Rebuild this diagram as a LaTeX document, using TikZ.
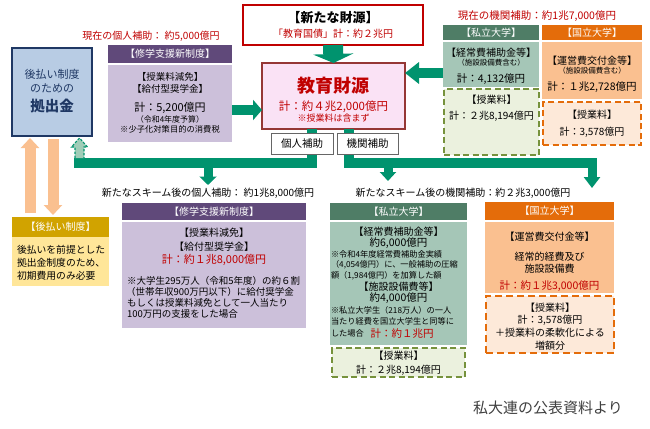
\documentclass[tikz,border=0pt]{standalone}
\usepackage{fontspec}
\setmainfont{Noto Sans CJK JP}
\usetikzlibrary{arrows.meta}
\newcommand\myfs[1]{\fontsize{#1}{#1}\selectfont}
\definecolor{navy}{RGB}{31,56,100}
\definecolor{bluef}{RGB}{184,204,228}
\definecolor{purpH}{RGB}{96,73,122}
\definecolor{purpB}{RGB}{204,192,218}
\definecolor{redT}{RGB}{192,0,0}
\definecolor{pinkf}{RGB}{250,226,245}
\definecolor{darkred}{RGB}{149,55,53}
\definecolor{pvtH}{RGB}{79,125,102}
\definecolor{pvtB}{RGB}{165,198,183}
\definecolor{pvtT}{RGB}{235,241,222}
\definecolor{olive}{RGB}{118,146,60}
\definecolor{natH}{RGB}{228,108,10}
\definecolor{natB}{RGB}{250,192,144}
\definecolor{natT}{RGB}{253,233,217}
\definecolor{goldH}{RGB}{209,163,0}
\definecolor{goldB}{RGB}{255,230,153}
\definecolor{peach}{RGB}{250,192,144}
\definecolor{gr}{RGB}{0,147,110}
\definecolor{lgr}{RGB}{160,205,184}
\tikzset{
  box/.style={anchor=north west, inner sep=0pt, outer sep=0pt},
  txt/.style={inner sep=0pt, outer sep=0pt},
  hdr/.style={box, text=white, font=\myfs{10}},
  gbar/.style={draw=gr, line width=10.5pt, line join=miter},
  dbox/.style={box, line width=1.8pt, dash pattern=on 6pt off 3.5pt},
  peacharrow/.style={draw=peach, line width=11pt, -{Triangle[width=18pt,length=10pt]}},
}
\begin{document}
\begin{tikzpicture}[x=1pt,y=-1pt]
\fill[white] (0,0) rectangle (650,428);
\useasboundingbox (0,0) rectangle (650,428);

% ---------- left fund box
\node[box, fill=bluef, draw=navy, line width=2pt, minimum width=80pt, minimum height=88pt] (A) at (12,48) {};
\node[txt, text=navy, font=\myfs{11}] (A1) at (52,74) {後払い制度};
\node[txt, text=navy, font=\myfs{11}] (A2) at (52,88) {のための};
\node[txt, text=navy, font=\myfs{14.5}\bfseries] (A3) at (52,106) {拠出金};

% ---------- current personal support
\node[txt, text=redT, font=\myfs{10}] (L1) at (151,36) {現在の個人補助： 約5,000億円};
\node[hdr, fill=purpH, minimum width=124pt, minimum height=18pt] (C) at (108,45) {【修学支援新制度】};
\node[box, fill=purpB, minimum width=124pt, minimum height=77pt] (D) at (108,65) {};
\node[txt, font=\myfs{9.5}] (D1) at (170,77) {【授業料減免】};
\node[txt, font=\myfs{9.5}] (D2) at (170,89) {【給付型奨学金】};
\node[txt, font=\myfs{11}] (D3) at (170,108) {計：5,200億円};
\node[txt, font=\myfs{8}] (D4) at (170,119) {（令和4年度予算）};
\node[txt, font=\myfs{8.3}] (D5) at (170,129) {※少子化対策目的の消費税};

% ---------- new source
\node[box, fill=white, draw=redT, line width=1.5pt, minimum width=180pt, minimum height=40pt] (E) at (243,5) {};
\node[txt, font=\myfs{13}\bfseries] (E1) at (333,18) {【新たな財源】};
\node[txt, text=redT, font=\myfs{10}] (E2) at (333,34) {「教育国債」計：約２兆円};

% ---------- education fund
\node[box, fill=pinkf, draw=darkred, line width=2pt, minimum width=143pt, minimum height=66pt] (F) at (262,63) {};
\node[txt, text=redT, font=\myfs{18}\bfseries] (F1) at (333.5,86) {教育財源};
\node[txt, text=redT, font=\myfs{11.5}] (F2) at (333.5,107) {計：約４兆2,000億円};
\node[txt, text=redT, font=\myfs{9}] (F3) at (333.5,118) {※授業料は含まず};

% ---------- current institutional support
\node[txt, text=redT, font=\myfs{10.5}] (I) at (537,16) {現在の機関補助：約1兆7,000億円};
\node[hdr, fill=pvtH, minimum width=96pt, minimum height=15pt] (J) at (443,25) {【私立大学】};
\node[box, fill=pvtB, minimum width=96pt, minimum height=45pt] (K) at (443,42) {};
\node[txt, font=\myfs{10}] (K1) at (491,53) {【経常費補助金等】};
\node[txt, font=\myfs{7.5}] (K2) at (491,63) {（施設設備費含む）};
\node[txt, font=\myfs{10.5}] (K3) at (491,79) {計：4,132億円};
\node[dbox, fill=pvtT, draw=olive, minimum width=95pt, minimum height=66pt] (L) at (444,89) {};
\node[txt, font=\myfs{10}] (L2) at (491.5,100) {【授業料】};
\node[txt, font=\myfs{10}] (L3) at (491.5,116) {計：２兆8,194億円};

\node[hdr, fill=natH, minimum width=100pt, minimum height=15pt] (M) at (542,25) {【国立大学】};
\node[box, fill=natB, minimum width=100pt, minimum height=57pt] (N) at (542,42) {};
\node[txt, font=\myfs{10}] (N1) at (592,61) {【運営費交付金等】};
\node[txt, font=\myfs{7.5}] (N2) at (592,71) {（施設設備費含む）};
\node[txt, font=\myfs{10.5}] (N3) at (592,87) {計：１兆2,728億円};
\node[dbox, fill=natT, draw=natH, minimum width=98pt, minimum height=43pt] (O) at (543,102) {};
\node[txt, font=\myfs{10}] (O1) at (592,115) {【授業料】};
\node[txt, font=\myfs{10}] (O2) at (592,132) {計：3,578億円};

% ---------- green arrows into the fund
\draw[draw=gr, line width=20pt, -{Triangle[width=40pt,length=9pt]}] (E.south) -- (F.north);
\draw[draw=gr, line width=10pt, -{Triangle[width=21pt,length=14pt]}] (K.west |- 0,73) -- (F.east |- 0,73);
\draw[draw=gr, line width=10pt, -{Triangle[width=20pt,length=9pt]}] (D.east |- 0,110) -- (F.west |- 0,110);

% ---------- green distribution bars
\coordinate (jl) at (312,163);
\coordinate (jr) at (349,163);
\draw[gbar] (F.south -| jl) -- (jl) -- (79,163) -- (79,158);
\draw[gbar] (F.south -| jr) -- (jr) -- (597.25,163);
\coordinate (dp) at (208,185);
\coordinate (di) at (388,181);
\coordinate (dn) at (592,188);
\draw[draw=gr, line width=9pt, -{Triangle[width=17pt,length=8.5pt]}] (208,163) -- (dp);
\draw[draw=gr, line width=9pt, -{Triangle[width=16pt,length=9pt]}] (388,163) -- (di);
\draw[draw=gr, line width=9pt, -{Triangle[width=16pt,length=11pt]}] (592,163) -- (dn);
% dashed light arrow into the fund box
\draw[fill=lgr, draw=gr, line width=1.1pt, dash pattern=on 2.5pt off 1.5pt]
  (75,158) -- (75,147) -- (71.5,147) -- (79.5,138) -- (87.5,147) -- (84,147) -- (84,158);

\node[box, fill=white, draw=black!60, line width=0.8pt, minimum width=62pt, minimum height=21pt, font=\myfs{10.5}] (G) at (271,133) {個人補助};
\node[box, fill=white, draw=black!60, line width=0.8pt, minimum width=61pt, minimum height=21pt, font=\myfs{10.5}] (H) at (337,133) {機関補助};

% ---------- deferred payment
\node[hdr, fill=goldH, minimum width=97pt, minimum height=20pt] (Q) at (12,217) {【後払い制度】};
\node[box, fill=goldB, minimum width=97pt, minimum height=49pt] (Q2) at (12,237) {};
\node[txt, anchor=west, font=\myfs{9.8}] (Q3) at (17,250) {後払いを前提とした};
\node[txt, anchor=west, font=\myfs{9.8}] (Q4) at (17,263) {拠出金制度のため、};
\node[txt, anchor=west, font=\myfs{9.8}] (Q5) at (17,275.5) {初期費用のみ必要};
\coordinate (pu1) at (30,213);
\coordinate (pu2) at (30,138);
\coordinate (pd1) at (53,139);
\coordinate (pd2) at (53,215);
\draw[peacharrow] (pu1) -- (pu2);
\draw[peacharrow] (pd1) -- (pd2);

% ---------- new personal support
\node[txt, font=\myfs{10}] (R) at (208,193) {新たなスキーム後の個人補助： 約1兆8,000億円};
\node[hdr, fill=purpH, minimum width=184pt, minimum height=17pt] (S) at (122,203) {【修学支援新制度】};
\node[box, fill=purpB, minimum width=184pt, minimum height=106pt] (T) at (122,222) {};
\node[txt, font=\myfs{10}] (T1) at (214,233) {【授業料減免】};
\node[txt, font=\myfs{10}] (T2) at (214,247) {【給付型奨学金】};
\node[txt, text=redT, font=\myfs{11}] (T3) at (214,260) {計：約１兆8,000億円};
\node[txt, anchor=west, font=\myfs{9.5}] (T4) at (127,280.5) {※大学生295万人（令和5年度）の約６割};
\node[txt, anchor=west, font=\myfs{9.5}] (T5) at (126,291.5) {（世帯年収900万円以下）に給付奨学金};
\node[txt, anchor=west, font=\myfs{9.5}] (T6) at (127,302.5) {もしくは授業料減免として一人当たり};
\node[txt, anchor=west, font=\myfs{9.5}] (T7) at (127,313.5) {100万円の支援をした場合};

% ---------- new institutional support
\node[txt, font=\myfs{10}] (U) at (463,193) {新たなスキーム後の機関補助：約２兆3,000億円};
\node[hdr, fill=pvtH, minimum width=137pt, minimum height=17pt] (V) at (330,203) {【私立大学】};
\node[box, fill=pvtB, minimum width=137pt, minimum height=123pt] (V2) at (330,222) {};
\node[txt, font=\myfs{10}] (V3) at (398.5,232) {【経常費補助金等】};
\node[txt, font=\myfs{10.5}] (V4) at (398.5,243) {約6,000億円};
\node[txt, anchor=west, font=\myfs{8.2}] (V5) at (331,254) {※令和4年度経常費補助金実績};
\node[txt, anchor=west, font=\myfs{8.2}] (V6) at (331,265) {（4,054億円）に、一般補助の圧縮};
\node[txt, anchor=west, font=\myfs{8.2}] (V7) at (331,276) {額（1,984億円）を加算した額};
\node[txt, font=\myfs{10}] (V8) at (398.5,287) {【施設設備費等】};
\node[txt, font=\myfs{10.5}] (V9) at (398.5,298) {約4,000億円};
\node[txt, anchor=west, font=\myfs{8.2}] (V10) at (331,310) {※私立大学生（218万人）の一人};
\node[txt, anchor=west, font=\myfs{8.2}] (V11) at (331,321) {当たり経費を国立大学生と同等に};
\node[txt, anchor=west, font=\myfs{8.2}] (V12) at (331,333) {した場合};
\node[txt, text=redT, font=\myfs{10.5}] (V13) at (402,334) {計：約１兆円};
\node[dbox, fill=pvtT, draw=olive, minimum width=133pt, minimum height=29pt] (W) at (332,348) {};
\node[txt, font=\myfs{10}] (W1) at (398.5,356) {【授業料】};
\node[txt, font=\myfs{10}] (W2) at (398.5,370) {計：２兆8,194億円};

\node[hdr, fill=natH, minimum width=129pt, minimum height=18pt] (X) at (485,202) {【国立大学】};
\node[box, fill=natB, minimum width=129pt, minimum height=71pt] (X2) at (485,222) {};
\node[txt, font=\myfs{10}] (X3) at (549.5,237) {【運営費交付金等】};
\node[txt, font=\myfs{10}] (X4) at (549.5,257) {経常的経費及び};
\node[txt, font=\myfs{10}] (X5) at (549.5,269) {施設設備費};
\node[txt, text=redT, font=\myfs{10.5}] (X6) at (549.5,286) {計：約１兆3,000億円};
\node[dbox, fill=natT, draw=natH, line width=2pt, dash pattern=on 7pt off 4pt, minimum width=128pt, minimum height=57pt] (Y) at (486,296) {};
\node[txt, font=\myfs{10}] (Y1) at (550,308) {【授業料】};
\node[txt, font=\myfs{10}] (Y2) at (550,320.5) {計：3,578億円};
\node[txt, font=\myfs{10}] (Y3) at (550,333) {＋授業料の柔軟化による};
\node[txt, font=\myfs{10}] (Y4) at (550,345.5) {増額分};

% ---------- source
\node[txt, text=black!75, font=\myfs{15}] (Z) at (548,408) {私大連の公表資料より};
\end{tikzpicture}
\end{document}
